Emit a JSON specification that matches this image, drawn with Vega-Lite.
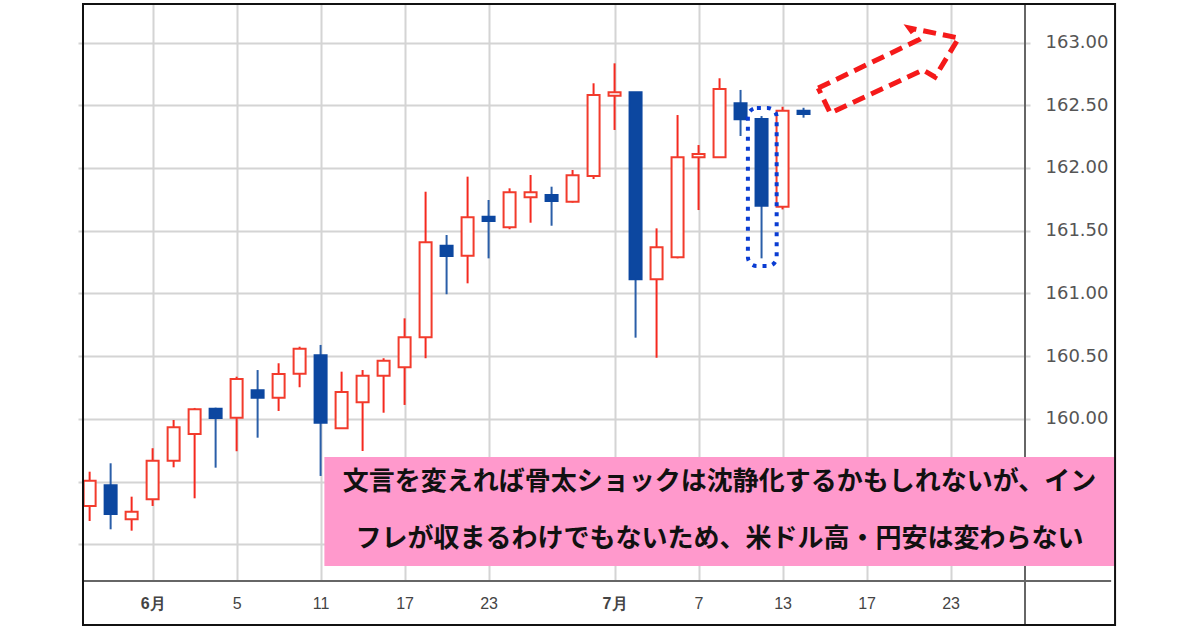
{
  "$schema": "https://vega.github.io/schema/vega-lite/v6.json",
  "width": 952,
  "height": 577,
  "autosize": {"type": "none"},
  "padding": {"left": 78, "top": 4, "right": 170, "bottom": 49},
  "background": "white",
  "config": {"view": {"stroke": null}},
  "datasets": {
    "candles": [
      {"i": 0, "date": "2026-05-27", "open": 159.307, "high": 159.58, "low": 159.187, "close": 159.508},
      {"i": 1, "date": "2026-05-28", "open": 159.472, "high": 159.647, "low": 159.121, "close": 159.243},
      {"i": 2, "date": "2026-05-29", "open": 159.201, "high": 159.381, "low": 159.11, "close": 159.261},
      {"i": 3, "date": "2026-06-01", "open": 159.36, "high": 159.767, "low": 159.307, "close": 159.668},
      {"i": 4, "date": "2026-06-02", "open": 159.668, "high": 159.992, "low": 159.615, "close": 159.934},
      {"i": 5, "date": "2026-06-03", "open": 159.88, "high": 160.088, "low": 159.368, "close": 160.077},
      {"i": 6, "date": "2026-06-04", "open": 160.082, "high": 160.09, "low": 159.612, "close": 160.008},
      {"i": 7, "date": "2026-06-05", "open": 160.01, "high": 160.337, "low": 159.743, "close": 160.319},
      {"i": 8, "date": "2026-06-08", "open": 160.229, "high": 160.39, "low": 159.851, "close": 160.17},
      {"i": 9, "date": "2026-06-09", "open": 160.17, "high": 160.444, "low": 160.064, "close": 160.359},
      {"i": 10, "date": "2026-06-10", "open": 160.361, "high": 160.576, "low": 160.253, "close": 160.56},
      {"i": 11, "date": "2026-06-11", "open": 160.508, "high": 160.59, "low": 159.546, "close": 159.971},
      {"i": 12, "date": "2026-06-12", "open": 159.926, "high": 160.377, "low": 159.92, "close": 160.215},
      {"i": 13, "date": "2026-06-15", "open": 160.133, "high": 160.39, "low": 159.745, "close": 160.345},
      {"i": 14, "date": "2026-06-16", "open": 160.345, "high": 160.484, "low": 160.05, "close": 160.465},
      {"i": 15, "date": "2026-06-17", "open": 160.412, "high": 160.802, "low": 160.112, "close": 160.651},
      {"i": 16, "date": "2026-06-18", "open": 160.651, "high": 161.811, "low": 160.484, "close": 161.408},
      {"i": 17, "date": "2026-06-19", "open": 161.381, "high": 161.466, "low": 160.994, "close": 161.299},
      {"i": 18, "date": "2026-06-22", "open": 161.301, "high": 161.931, "low": 161.081, "close": 161.607},
      {"i": 19, "date": "2026-06-23", "open": 161.612, "high": 161.745, "low": 161.28, "close": 161.578},
      {"i": 20, "date": "2026-06-24", "open": 161.527, "high": 161.838, "low": 161.512, "close": 161.806},
      {"i": 21, "date": "2026-06-25", "open": 161.766, "high": 161.944, "low": 161.564, "close": 161.806},
      {"i": 22, "date": "2026-06-26", "open": 161.785, "high": 161.851, "low": 161.54, "close": 161.737},
      {"i": 23, "date": "2026-06-29", "open": 161.732, "high": 161.984, "low": 161.724, "close": 161.942},
      {"i": 24, "date": "2026-06-30", "open": 161.936, "high": 162.675, "low": 161.912, "close": 162.582},
      {"i": 25, "date": "2026-07-01", "open": 162.576, "high": 162.834, "low": 162.303, "close": 162.603},
      {"i": 26, "date": "2026-07-02", "open": 162.603, "high": 162.605, "low": 160.648, "close": 161.113},
      {"i": 27, "date": "2026-07-03", "open": 161.113, "high": 161.519, "low": 160.488, "close": 161.368},
      {"i": 28, "date": "2026-07-06", "open": 161.288, "high": 162.422, "low": 161.28, "close": 162.085},
      {"i": 29, "date": "2026-07-07", "open": 162.085, "high": 162.183, "low": 161.665, "close": 162.112},
      {"i": 30, "date": "2026-07-08", "open": 162.085, "high": 162.715, "low": 162.08, "close": 162.629},
      {"i": 31, "date": "2026-07-09", "open": 162.515, "high": 162.622, "low": 162.255, "close": 162.388},
      {"i": 32, "date": "2026-07-10", "open": 162.39, "high": 162.414, "low": 161.28, "close": 161.7},
      {"i": 33, "date": "2026-07-13", "open": 161.692, "high": 162.488, "low": 161.67, "close": 162.457},
      {"i": 34, "date": "2026-07-14", "open": 162.457, "high": 162.48, "low": 162.401, "close": 162.43}
    ],
    "arrow": [
      {"k": 0, "x": 34.70, "y": 162.637},
      {"k": 1, "x": 39.46, "y": 163.020},
      {"k": 2, "x": 39.04, "y": 163.116},
      {"k": 3, "x": 41.39, "y": 163.036},
      {"k": 4, "x": 40.26, "y": 162.725},
      {"k": 5, "x": 39.69, "y": 162.781},
      {"k": 6, "x": 35.27, "y": 162.438},
      {"k": 7, "x": 34.70, "y": 162.637}
    ],
    "box": [{"x": 31.35, "x2": 32.72, "y": 162.478, "y2": 161.219}],
    "note": [{"x": 11.18, "x2": 48.79, "y": 159.697, "y2": 158.829}],
    "noteText": [
      {"x": 30.0, "y": 159.498, "t": "文言を変えれば骨太ショックは沈静化するかもしれないが、イン"},
      {"x": 30.0, "y": 159.044, "t": "フレが収まるわけでもないため、米ドル高・円安は変わらない"}
    ],
    "hline": [{"x": -0.316, "x2": 48.65, "y": 158.709}],
    "vline": [{"x": 44.547, "y": 163.3068, "y2": 158.359}],
    "frame": [{"x": -0.316, "x2": 48.836, "y": 163.3068, "y2": 158.359}]
  },
  "layer": [
    {
      "data": {"name": "candles"},
      "mark": {"type": "rule", "strokeWidth": 2},
      "encoding": {
        "x": {
          "field": "i", "type": "quantitative",
          "scale": {"domain": [-0.3157, 44.547], "nice": false, "zero": false},
          "axis": {
            "orient": "bottom", "title": null,
            "values": [3, 7, 11, 15, 19, 25, 29, 33, 37, 41],
            "labelExpr": "datum.value==3?'6月':datum.value==7?'5':datum.value==11?'11':datum.value==15?'17':datum.value==19?'23':datum.value==25?'7月':datum.value==29?'7':datum.value==33?'13':datum.value==37?'17':'23'",
            "labelFont": "Liberation Sans", "labelFontSize": 16, "labelColor": "#444",
            "labelFontWeight": {"condition": {"test": "datum.value==3||datum.value==25", "value": "bold"}, "value": "normal"},
            "labelPadding": 14, "ticks": false, "domain": false,
            "grid": true, "gridColor": "#d4d4d4", "gridWidth": 2,
            "labelOverlap": false, "labelFlush": false
          }
        },
        "y": {
          "field": "low", "type": "quantitative",
          "scale": {"domain": [158.709, 163.3068], "nice": false, "zero": false},
          "axis": {
            "orient": "right", "title": null,
            "values": [159, 159.5, 160, 160.5, 161, 161.5, 162, 162.5, 163],
            "labelExpr": "datum.value < 159.9 ? '' : format(datum.value, '.2f')",
            "labelFont": "DejaVu Sans", "labelFontSize": 18, "labelColor": "#555",
            "labelPadding": 15, "labelAlign": "left", "labelBaseline": "middle",
            "ticks": false, "domain": false,
            "grid": true, "gridColor": "#d4d4d4", "gridWidth": 2,
            "labelOverlap": false, "labelFlush": false
          }
        },
        "y2": {"field": "high"},
        "color": {"condition": {"test": "datum.close > datum.open", "value": "#f5291f"}, "value": "#2a5ea8"}
      }
    },
    {
      "data": {"name": "candles"},
      "mark": {"type": "bar", "size": 12, "strokeWidth": 2},
      "encoding": {
        "x": {"field": "i", "type": "quantitative"},
        "y": {"field": "open", "type": "quantitative"},
        "y2": {"field": "close"},
        "fill": {"condition": {"test": "datum.close > datum.open", "value": "#ffffff"}, "value": "#0c47a0"},
        "stroke": {"condition": {"test": "datum.close > datum.open", "value": "#f23b2c"}, "value": "#0c47a0"}
      }
    },
    {
      "data": {"name": "hline"},
      "mark": {"type": "rule", "clip": false, "strokeWidth": 2, "color": "#666"},
      "encoding": {
        "x": {"field": "x", "type": "quantitative"},
        "x2": {"field": "x2"},
        "y": {"field": "y", "type": "quantitative"}
      }
    },
    {
      "data": {"name": "vline"},
      "mark": {"type": "rule", "clip": false, "strokeWidth": 2, "color": "#666"},
      "encoding": {
        "x": {"field": "x", "type": "quantitative"},
        "y": {"field": "y", "type": "quantitative"},
        "y2": {"field": "y2"}
      }
    },
    {
      "data": {"name": "note"},
      "mark": {"type": "rect", "clip": false, "color": "#ff99cc"},
      "encoding": {
        "x": {"field": "x", "type": "quantitative"},
        "x2": {"field": "x2"},
        "y": {"field": "y", "type": "quantitative"},
        "y2": {"field": "y2"}
      }
    },
    {
      "data": {"name": "noteText"},
      "mark": {"type": "text", "clip": false, "font": "Noto Sans CJK JP", "fontWeight": "bold", "fontSize": 26, "color": "#111", "align": "center", "baseline": "middle"},
      "encoding": {
        "x": {"field": "x", "type": "quantitative"},
        "y": {"field": "y", "type": "quantitative"},
        "text": {"field": "t"}
      }
    },
    {
      "data": {"name": "box"},
      "mark": {"type": "rect", "fill": "white", "fillOpacity": 0, "stroke": "#0a3cd2", "strokeWidth": 4, "strokeDash": [4, 6], "cornerRadius": 9},
      "encoding": {
        "x": {"field": "x", "type": "quantitative"},
        "x2": {"field": "x2"},
        "y": {"field": "y", "type": "quantitative"},
        "y2": {"field": "y2"}
      }
    },
    {
      "data": {"name": "arrow"},
      "mark": {"type": "line", "clip": false, "color": "#f51a1a", "strokeWidth": 5, "strokeDash": [13, 7], "strokeJoin": "miter"},
      "encoding": {
        "x": {"field": "x", "type": "quantitative"},
        "y": {"field": "y", "type": "quantitative"},
        "order": {"field": "k", "type": "quantitative"}
      }
    },
    {
      "data": {"name": "frame"},
      "mark": {"type": "rect", "clip": false, "fill": "white", "fillOpacity": 0, "stroke": "#111", "strokeWidth": 2},
      "encoding": {
        "x": {"field": "x", "type": "quantitative"},
        "x2": {"field": "x2"},
        "y": {"field": "y", "type": "quantitative"},
        "y2": {"field": "y2"}
      }
    }
  ]
}
